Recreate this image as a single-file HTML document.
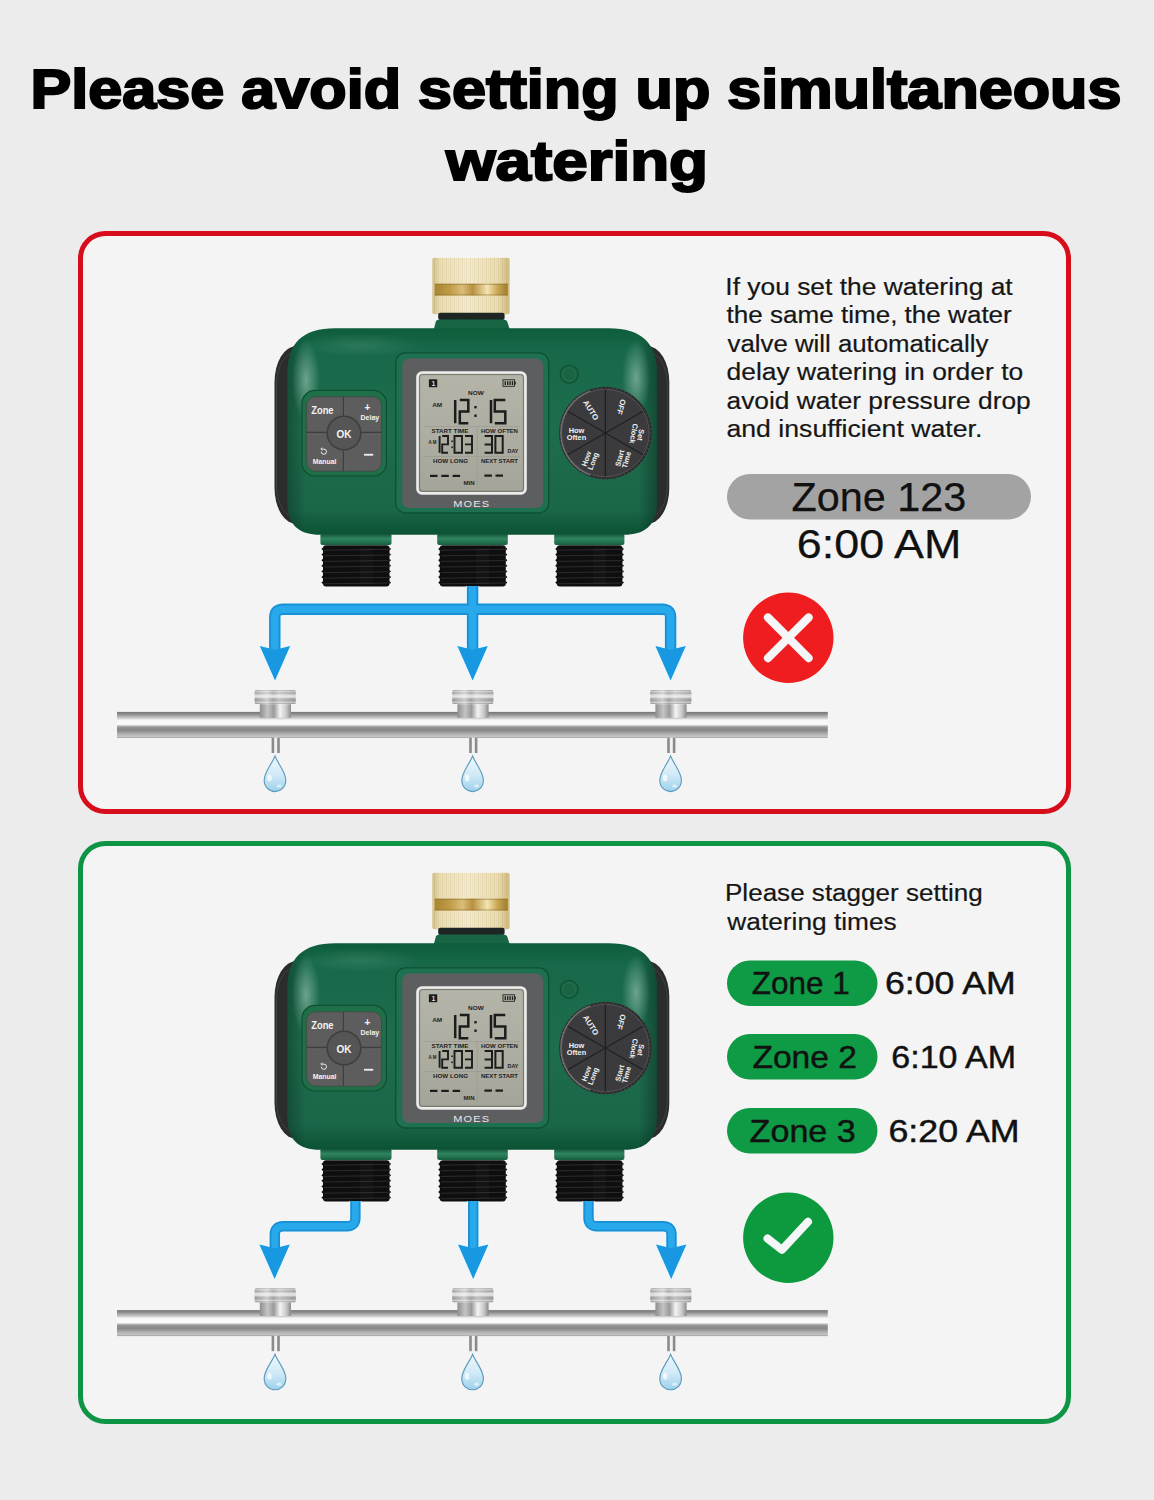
<!DOCTYPE html>
<html><head><meta charset="utf-8"><title>Avoid simultaneous watering</title>
<style>
html,body{margin:0;padding:0;width:1154px;height:1500px;overflow:hidden;background:#ececec}
svg{display:block}
text{font-family:"Liberation Sans",sans-serif}
</style></head><body>
<svg width="1154" height="1500" viewBox="0 0 1154 1500">
<defs>
<linearGradient id="brass" x1="0" y1="0" x2="1" y2="0">
<stop offset="0" stop-color="#d4c089"/><stop offset="0.1" stop-color="#eee2bb"/><stop offset="0.45" stop-color="#f7f0d5"/><stop offset="0.85" stop-color="#ede1b9"/><stop offset="1" stop-color="#d0ba7e"/>
</linearGradient>
<linearGradient id="brassband" x1="0" y1="0" x2="1" y2="0">
<stop offset="0" stop-color="#a88532"/><stop offset="0.2" stop-color="#bf9a47"/><stop offset="0.38" stop-color="#d9bd78"/><stop offset="0.52" stop-color="#b8913f"/><stop offset="0.72" stop-color="#f3e4b2"/><stop offset="0.86" stop-color="#c9a652"/><stop offset="1" stop-color="#9f7d2f"/>
</linearGradient>
<linearGradient id="bodyg" x1="0" y1="0" x2="0" y2="1">
<stop offset="0" stop-color="#0d5d3b"/><stop offset="0.1" stop-color="#17694a"/><stop offset="0.5" stop-color="#1e6d4d"/><stop offset="0.88" stop-color="#1a6648"/><stop offset="1" stop-color="#0c5234"/>
</linearGradient>
<linearGradient id="bodyshade" x1="0" y1="0" x2="1" y2="0">
<stop offset="0" stop-color="#000" stop-opacity="0.25"/><stop offset="0.05" stop-color="#000" stop-opacity="0"/><stop offset="0.95" stop-color="#000" stop-opacity="0"/><stop offset="1" stop-color="#000" stop-opacity="0.3"/>
</linearGradient>
<radialGradient id="hl"><stop offset="0" stop-color="#cfe8dc"/><stop offset="1" stop-color="#cfe8dc" stop-opacity="0"/></radialGradient>
<linearGradient id="collar" x1="0" y1="0" x2="0" y2="1">
<stop offset="0" stop-color="#0f4f33"/><stop offset="0.45" stop-color="#2f8560"/><stop offset="1" stop-color="#17603f"/>
</linearGradient>
<linearGradient id="pipe" x1="0" y1="0" x2="0" y2="1">
<stop offset="0" stop-color="#777"/><stop offset="0.08" stop-color="#8a8a8a"/><stop offset="0.26" stop-color="#d5d5d5"/><stop offset="0.31" stop-color="#f7f7f7"/><stop offset="0.48" stop-color="#fafafa"/><stop offset="0.58" stop-color="#979797"/><stop offset="0.7" stop-color="#868686"/><stop offset="0.85" stop-color="#b0b0b0"/><stop offset="0.95" stop-color="#c4c4c4"/><stop offset="1" stop-color="#9a9a9a"/>
</linearGradient>
<linearGradient id="nut" x1="0" y1="0" x2="0" y2="1">
<stop offset="0" stop-color="#8e8e8e"/><stop offset="0.1" stop-color="#c8c8c8"/><stop offset="0.22" stop-color="#9a9a9a"/><stop offset="0.36" stop-color="#d6d6d6"/><stop offset="0.5" stop-color="#e2e2e2"/><stop offset="0.62" stop-color="#a2a2a2"/><stop offset="0.76" stop-color="#939393"/><stop offset="0.88" stop-color="#c6c6c6"/><stop offset="1" stop-color="#858585"/>
</linearGradient>
<linearGradient id="nuth" x1="0" y1="0" x2="1" y2="0">
<stop offset="0" stop-color="#fff" stop-opacity="0"/><stop offset="0.3" stop-color="#fff" stop-opacity="0.5"/><stop offset="0.45" stop-color="#fff" stop-opacity="0.1"/><stop offset="0.6" stop-color="#fff" stop-opacity="0.4"/><stop offset="1" stop-color="#fff" stop-opacity="0"/>
</linearGradient>
<linearGradient id="coll2" x1="0" y1="0" x2="1" y2="0">
<stop offset="0" stop-color="#8e8e8e"/><stop offset="0.25" stop-color="#c4c4c4"/><stop offset="0.45" stop-color="#9a9a9a"/><stop offset="0.65" stop-color="#f4f4f4"/><stop offset="0.85" stop-color="#c8c8c8"/><stop offset="1" stop-color="#8a8a8a"/>
</linearGradient>
<linearGradient id="drop" x1="0" y1="0" x2="0" y2="1">
<stop offset="0" stop-color="#eef8fd"/><stop offset="0.55" stop-color="#cfe9f6"/><stop offset="1" stop-color="#9dd0ec"/>
</linearGradient>
<linearGradient id="lcdg" x1="0" y1="0" x2="0" y2="1">
<stop offset="0" stop-color="#b4b5a8"/><stop offset="0.5" stop-color="#adaea1"/><stop offset="1" stop-color="#a4a598"/>
</linearGradient>

<g id="dev">
<g>
<rect x="432.3" y="257.7" width="77.3" height="56.5" rx="2" fill="url(#brass)"/>
<line x1="434.3" y1="258" x2="434.3" y2="283.7" stroke="#b0924a" stroke-opacity="0.28" stroke-width="0.9"/>
<line x1="434.3" y1="295.5" x2="434.3" y2="314" stroke="#b0924a" stroke-opacity="0.28" stroke-width="0.9"/>
<line x1="436.3" y1="258" x2="436.3" y2="283.7" stroke="#b0924a" stroke-opacity="0.14" stroke-width="0.9"/>
<line x1="436.3" y1="295.5" x2="436.3" y2="314" stroke="#b0924a" stroke-opacity="0.14" stroke-width="0.9"/>
<line x1="438.3" y1="258" x2="438.3" y2="283.7" stroke="#b0924a" stroke-opacity="0.28" stroke-width="0.9"/>
<line x1="438.3" y1="295.5" x2="438.3" y2="314" stroke="#b0924a" stroke-opacity="0.28" stroke-width="0.9"/>
<line x1="440.3" y1="258" x2="440.3" y2="283.7" stroke="#b0924a" stroke-opacity="0.14" stroke-width="0.9"/>
<line x1="440.3" y1="295.5" x2="440.3" y2="314" stroke="#b0924a" stroke-opacity="0.14" stroke-width="0.9"/>
<line x1="442.3" y1="258" x2="442.3" y2="283.7" stroke="#b0924a" stroke-opacity="0.28" stroke-width="0.9"/>
<line x1="442.3" y1="295.5" x2="442.3" y2="314" stroke="#b0924a" stroke-opacity="0.28" stroke-width="0.9"/>
<line x1="444.3" y1="258" x2="444.3" y2="283.7" stroke="#b0924a" stroke-opacity="0.14" stroke-width="0.9"/>
<line x1="444.3" y1="295.5" x2="444.3" y2="314" stroke="#b0924a" stroke-opacity="0.14" stroke-width="0.9"/>
<line x1="446.3" y1="258" x2="446.3" y2="283.7" stroke="#b0924a" stroke-opacity="0.28" stroke-width="0.9"/>
<line x1="446.3" y1="295.5" x2="446.3" y2="314" stroke="#b0924a" stroke-opacity="0.28" stroke-width="0.9"/>
<line x1="448.3" y1="258" x2="448.3" y2="283.7" stroke="#b0924a" stroke-opacity="0.14" stroke-width="0.9"/>
<line x1="448.3" y1="295.5" x2="448.3" y2="314" stroke="#b0924a" stroke-opacity="0.14" stroke-width="0.9"/>
<line x1="450.3" y1="258" x2="450.3" y2="283.7" stroke="#b0924a" stroke-opacity="0.28" stroke-width="0.9"/>
<line x1="450.3" y1="295.5" x2="450.3" y2="314" stroke="#b0924a" stroke-opacity="0.28" stroke-width="0.9"/>
<line x1="452.3" y1="258" x2="452.3" y2="283.7" stroke="#b0924a" stroke-opacity="0.14" stroke-width="0.9"/>
<line x1="452.3" y1="295.5" x2="452.3" y2="314" stroke="#b0924a" stroke-opacity="0.14" stroke-width="0.9"/>
<line x1="454.3" y1="258" x2="454.3" y2="283.7" stroke="#b0924a" stroke-opacity="0.28" stroke-width="0.9"/>
<line x1="454.3" y1="295.5" x2="454.3" y2="314" stroke="#b0924a" stroke-opacity="0.28" stroke-width="0.9"/>
<line x1="456.3" y1="258" x2="456.3" y2="283.7" stroke="#b0924a" stroke-opacity="0.14" stroke-width="0.9"/>
<line x1="456.3" y1="295.5" x2="456.3" y2="314" stroke="#b0924a" stroke-opacity="0.14" stroke-width="0.9"/>
<line x1="458.3" y1="258" x2="458.3" y2="283.7" stroke="#b0924a" stroke-opacity="0.28" stroke-width="0.9"/>
<line x1="458.3" y1="295.5" x2="458.3" y2="314" stroke="#b0924a" stroke-opacity="0.28" stroke-width="0.9"/>
<line x1="460.3" y1="258" x2="460.3" y2="283.7" stroke="#b0924a" stroke-opacity="0.14" stroke-width="0.9"/>
<line x1="460.3" y1="295.5" x2="460.3" y2="314" stroke="#b0924a" stroke-opacity="0.14" stroke-width="0.9"/>
<line x1="462.3" y1="258" x2="462.3" y2="283.7" stroke="#b0924a" stroke-opacity="0.28" stroke-width="0.9"/>
<line x1="462.3" y1="295.5" x2="462.3" y2="314" stroke="#b0924a" stroke-opacity="0.28" stroke-width="0.9"/>
<line x1="464.3" y1="258" x2="464.3" y2="283.7" stroke="#b0924a" stroke-opacity="0.14" stroke-width="0.9"/>
<line x1="464.3" y1="295.5" x2="464.3" y2="314" stroke="#b0924a" stroke-opacity="0.14" stroke-width="0.9"/>
<line x1="466.3" y1="258" x2="466.3" y2="283.7" stroke="#b0924a" stroke-opacity="0.28" stroke-width="0.9"/>
<line x1="466.3" y1="295.5" x2="466.3" y2="314" stroke="#b0924a" stroke-opacity="0.28" stroke-width="0.9"/>
<line x1="468.3" y1="258" x2="468.3" y2="283.7" stroke="#b0924a" stroke-opacity="0.14" stroke-width="0.9"/>
<line x1="468.3" y1="295.5" x2="468.3" y2="314" stroke="#b0924a" stroke-opacity="0.14" stroke-width="0.9"/>
<line x1="470.3" y1="258" x2="470.3" y2="283.7" stroke="#b0924a" stroke-opacity="0.28" stroke-width="0.9"/>
<line x1="470.3" y1="295.5" x2="470.3" y2="314" stroke="#b0924a" stroke-opacity="0.28" stroke-width="0.9"/>
<line x1="472.3" y1="258" x2="472.3" y2="283.7" stroke="#b0924a" stroke-opacity="0.14" stroke-width="0.9"/>
<line x1="472.3" y1="295.5" x2="472.3" y2="314" stroke="#b0924a" stroke-opacity="0.14" stroke-width="0.9"/>
<line x1="474.3" y1="258" x2="474.3" y2="283.7" stroke="#b0924a" stroke-opacity="0.28" stroke-width="0.9"/>
<line x1="474.3" y1="295.5" x2="474.3" y2="314" stroke="#b0924a" stroke-opacity="0.28" stroke-width="0.9"/>
<line x1="476.3" y1="258" x2="476.3" y2="283.7" stroke="#b0924a" stroke-opacity="0.14" stroke-width="0.9"/>
<line x1="476.3" y1="295.5" x2="476.3" y2="314" stroke="#b0924a" stroke-opacity="0.14" stroke-width="0.9"/>
<line x1="478.3" y1="258" x2="478.3" y2="283.7" stroke="#b0924a" stroke-opacity="0.28" stroke-width="0.9"/>
<line x1="478.3" y1="295.5" x2="478.3" y2="314" stroke="#b0924a" stroke-opacity="0.28" stroke-width="0.9"/>
<line x1="480.3" y1="258" x2="480.3" y2="283.7" stroke="#b0924a" stroke-opacity="0.14" stroke-width="0.9"/>
<line x1="480.3" y1="295.5" x2="480.3" y2="314" stroke="#b0924a" stroke-opacity="0.14" stroke-width="0.9"/>
<line x1="482.3" y1="258" x2="482.3" y2="283.7" stroke="#b0924a" stroke-opacity="0.28" stroke-width="0.9"/>
<line x1="482.3" y1="295.5" x2="482.3" y2="314" stroke="#b0924a" stroke-opacity="0.28" stroke-width="0.9"/>
<line x1="484.3" y1="258" x2="484.3" y2="283.7" stroke="#b0924a" stroke-opacity="0.14" stroke-width="0.9"/>
<line x1="484.3" y1="295.5" x2="484.3" y2="314" stroke="#b0924a" stroke-opacity="0.14" stroke-width="0.9"/>
<line x1="486.3" y1="258" x2="486.3" y2="283.7" stroke="#b0924a" stroke-opacity="0.28" stroke-width="0.9"/>
<line x1="486.3" y1="295.5" x2="486.3" y2="314" stroke="#b0924a" stroke-opacity="0.28" stroke-width="0.9"/>
<line x1="488.3" y1="258" x2="488.3" y2="283.7" stroke="#b0924a" stroke-opacity="0.14" stroke-width="0.9"/>
<line x1="488.3" y1="295.5" x2="488.3" y2="314" stroke="#b0924a" stroke-opacity="0.14" stroke-width="0.9"/>
<line x1="490.3" y1="258" x2="490.3" y2="283.7" stroke="#b0924a" stroke-opacity="0.28" stroke-width="0.9"/>
<line x1="490.3" y1="295.5" x2="490.3" y2="314" stroke="#b0924a" stroke-opacity="0.28" stroke-width="0.9"/>
<line x1="492.3" y1="258" x2="492.3" y2="283.7" stroke="#b0924a" stroke-opacity="0.14" stroke-width="0.9"/>
<line x1="492.3" y1="295.5" x2="492.3" y2="314" stroke="#b0924a" stroke-opacity="0.14" stroke-width="0.9"/>
<line x1="494.3" y1="258" x2="494.3" y2="283.7" stroke="#b0924a" stroke-opacity="0.28" stroke-width="0.9"/>
<line x1="494.3" y1="295.5" x2="494.3" y2="314" stroke="#b0924a" stroke-opacity="0.28" stroke-width="0.9"/>
<line x1="496.3" y1="258" x2="496.3" y2="283.7" stroke="#b0924a" stroke-opacity="0.14" stroke-width="0.9"/>
<line x1="496.3" y1="295.5" x2="496.3" y2="314" stroke="#b0924a" stroke-opacity="0.14" stroke-width="0.9"/>
<line x1="498.3" y1="258" x2="498.3" y2="283.7" stroke="#b0924a" stroke-opacity="0.28" stroke-width="0.9"/>
<line x1="498.3" y1="295.5" x2="498.3" y2="314" stroke="#b0924a" stroke-opacity="0.28" stroke-width="0.9"/>
<line x1="500.3" y1="258" x2="500.3" y2="283.7" stroke="#b0924a" stroke-opacity="0.14" stroke-width="0.9"/>
<line x1="500.3" y1="295.5" x2="500.3" y2="314" stroke="#b0924a" stroke-opacity="0.14" stroke-width="0.9"/>
<line x1="502.3" y1="258" x2="502.3" y2="283.7" stroke="#b0924a" stroke-opacity="0.28" stroke-width="0.9"/>
<line x1="502.3" y1="295.5" x2="502.3" y2="314" stroke="#b0924a" stroke-opacity="0.28" stroke-width="0.9"/>
<line x1="504.3" y1="258" x2="504.3" y2="283.7" stroke="#b0924a" stroke-opacity="0.14" stroke-width="0.9"/>
<line x1="504.3" y1="295.5" x2="504.3" y2="314" stroke="#b0924a" stroke-opacity="0.14" stroke-width="0.9"/>
<line x1="506.3" y1="258" x2="506.3" y2="283.7" stroke="#b0924a" stroke-opacity="0.28" stroke-width="0.9"/>
<line x1="506.3" y1="295.5" x2="506.3" y2="314" stroke="#b0924a" stroke-opacity="0.28" stroke-width="0.9"/>
<rect x="434.6" y="283.7" width="73.2" height="11.8" fill="url(#brassband)"/>
<rect x="434.6" y="283.7" width="73.2" height="1.2" fill="#8f7030" opacity="0.5"/>
<rect x="434.6" y="294.3" width="73.2" height="1.2" fill="#8f7030" opacity="0.5"/>
</g>
<rect x="438.2" y="312.8" width="66.4" height="7.2" rx="2" fill="#1d2622"/>
<path d="M433.6 330 L436 321 Q437 319.5 440 319.5 L503 319.5 Q506 319.5 507 321 L510 330 Z" fill="#176545"/>
<rect x="274.5" y="346" width="394.8" height="178" rx="22" ry="36" fill="#2a2d2c"/>
<rect x="276.5" y="352" width="390.8" height="166" rx="20" ry="32" fill="none" stroke="#474c4a" stroke-width="1" opacity="0.7"/>
<path d="M287.5 372 C287.5 343 303 328.3 335 328.3 H609 C641 328.3 656.8 343 656.8 372 V503 C656.8 524 646 534.8 624 534.8 H320 C298 534.8 287.5 524 287.5 503 Z" fill="url(#bodyg)"/>
<path d="M287.5 372 C287.5 343 303 328.3 335 328.3 H609 C641 328.3 656.8 343 656.8 372 V503 C656.8 524 646 534.8 624 534.8 H320 C298 534.8 287.5 524 287.5 503 Z" fill="url(#bodyshade)"/>
<ellipse cx="306" cy="380" rx="14" ry="40" fill="url(#hl)" opacity="0.45"/>
<ellipse cx="636" cy="378" rx="14" ry="38" fill="url(#hl)" opacity="0.45"/>
<ellipse cx="360" cy="345" rx="60" ry="12" fill="url(#hl)" opacity="0.12"/>
<rect x="302" y="390.4" width="84.4" height="85.6" rx="13" fill="#1f7049" stroke="#0f4f33" stroke-width="1.2"/>
<rect x="306.4" y="396.8" width="75.2" height="74.4" rx="9" fill="#5d5d5d" stroke="#3c4a42" stroke-width="0.8"/>
<line x1="343.5" y1="397" x2="343.5" y2="471" stroke="#3e3e3e" stroke-width="1.4"/>
<line x1="306.5" y1="432.5" x2="381.5" y2="432.5" stroke="#3e3e3e" stroke-width="1.4"/>
<line x1="345" y1="397" x2="345" y2="471" stroke="#6c6c6c" stroke-width="0.6"/>
<line x1="306.5" y1="434" x2="381.5" y2="434" stroke="#6c6c6c" stroke-width="0.6"/>
<circle cx="344" cy="433" r="16.8" fill="#555" stroke="#3f3f3f" stroke-width="1.6"/>
<g fill="#f4f4f4" font-weight="700">
<text x="311.2" y="414.4" font-size="10.5" lengthAdjust="spacingAndGlyphs" textLength="22.4">Zone</text>
<text x="364.6" y="411.2" font-size="10">+</text>
<text x="360.5" y="420" font-size="8" lengthAdjust="spacingAndGlyphs" textLength="18.7">Delay</text>
<text x="336.5" y="438" font-size="11.5" lengthAdjust="spacingAndGlyphs" textLength="15">OK</text>
<text x="312.8" y="464" font-size="8" lengthAdjust="spacingAndGlyphs" textLength="23.7">Manual</text>
</g>
<rect x="364" y="453.8" width="9.2" height="1.9" fill="#ececec"/>
<path d="M321.3 451.7 a2.6 2.6 0 1 0 2.6 -2.6 h-2" fill="none" stroke="#eee" stroke-width="1"/>
<path d="M322.2 447.6 l-1.4 1.5 l1.6 1.2" fill="none" stroke="#eee" stroke-width="0.9"/>
<rect x="395.7" y="352.9" width="153" height="160.1" rx="10" fill="#1e7150" stroke="#0e5134" stroke-width="1.4"/>
<rect x="402.2" y="358.6" width="140.8" height="149.4" rx="7" fill="#5d5e60"/>
<rect x="417.5" y="372.5" width="108" height="120.9" rx="4.5" fill="url(#lcdg)" stroke="#ececec" stroke-width="2.6"/>
<rect x="419.6" y="374.6" width="103.8" height="116.7" rx="3" fill="none" stroke="#4c4d48" stroke-width="1" opacity="0.6"/>
<g stroke="#9a9a94" stroke-width="0.7">
<line x1="423.5" y1="426.5" x2="520" y2="426.5"/>
<line x1="423.5" y1="456.5" x2="520" y2="456.5"/>
<line x1="477.2" y1="426.5" x2="477.2" y2="488"/>
</g>
<rect x="428.9" y="379.3" width="8.3" height="7.9" fill="#1a1a1a"/>
<text x="431.5" y="386" font-size="7" font-weight="700" fill="#ddd">1</text>
<rect x="503" y="379.8" width="11.5" height="6.5" fill="none" stroke="#222" stroke-width="0.9"/>
<rect x="514.5" y="381.6" width="1.3" height="2.9" fill="#222"/>
<rect x="504.6" y="381.2" width="1.4" height="3.8" fill="#222"/>
<rect x="507.0" y="381.2" width="1.4" height="3.8" fill="#222"/>
<rect x="509.4" y="381.2" width="1.4" height="3.8" fill="#222"/>
<rect x="511.8" y="381.2" width="1.4" height="3.8" fill="#222"/>
<g fill="#1e1e1e" font-size="5.6" font-weight="700">
<text x="468" y="395.3" lengthAdjust="spacingAndGlyphs" textLength="15.7">NOW</text>
<text x="432.2" y="407.2" lengthAdjust="spacingAndGlyphs" textLength="10">AM</text>
<text x="431.5" y="433" lengthAdjust="spacingAndGlyphs" textLength="37">START TIME</text>
<text x="481" y="432.5" lengthAdjust="spacingAndGlyphs" textLength="37">HOW OFTEN</text>
<text x="428.5" y="444" lengthAdjust="spacingAndGlyphs" textLength="8">A M</text>
<text x="507.5" y="453" lengthAdjust="spacingAndGlyphs" textLength="11">DAY</text>
<text x="433" y="463" lengthAdjust="spacingAndGlyphs" textLength="35">HOW LONG</text>
<text x="481" y="463" lengthAdjust="spacingAndGlyphs" textLength="37">NEXT START</text>
<text x="463.5" y="484.5" font-size="4.5" lengthAdjust="spacingAndGlyphs" textLength="11">MIN</text>
</g>
<path d="M455.2 399.9V423.2M459.8 399.9H468.3V411.54999999999995H459.8V423.2H468.3M491 399.9V423.2M505.3 399.9H494.8V411.54999999999995H505.3V423.2H494.8" fill="none" stroke="#1c1c1c" stroke-width="2.5" stroke-linejoin="miter"/>
<rect x="474.3" y="406" width="2.4" height="2.4" fill="#1c1c1c"/><rect x="474.3" y="414.5" width="2.4" height="2.4" fill="#1c1c1c"/>
<path d="M439.6 436.0V452.8M442.2 436.0H448.0V444.4H442.2V452.8H448.0M454.5 436.0H462.0V452.8H454.5ZM465.0 436.0H472.0V452.8H465.0M465.0 444.4H472.0" fill="none" stroke="#1c1c1c" stroke-width="1.9" stroke-linejoin="miter"/>
<rect x="451.3" y="440.5" width="1.6" height="1.6" fill="#1c1c1c"/><rect x="451.3" y="446.5" width="1.6" height="1.6" fill="#1c1c1c"/>
<path d="M484.6 436.0H492.0V452.8H484.6M484.6 444.4H492.0M495.4 436.0H502.7V452.8H495.4Z" fill="none" stroke="#1c1c1c" stroke-width="2.0" stroke-linejoin="miter"/>
<g fill="#1c1c1c">
<rect x="430.0" y="474.8" width="7.5" height="2.2"/>
<rect x="441.3" y="474.8" width="7.5" height="2.2"/>
<rect x="452.6" y="474.8" width="7.5" height="2.2"/>
<rect x="484.4" y="474.5" width="7.5" height="2.2"/>
<rect x="495.5" y="474.5" width="7.5" height="2.2"/>
</g>
<text x="471.8" y="506.5" font-size="9.5" fill="#e8e8e8" text-anchor="middle" lengthAdjust="spacingAndGlyphs" textLength="37" letter-spacing="1">MOES</text>
<circle cx="569.2" cy="374.3" r="9" fill="#1a6444" stroke="#0f5134" stroke-width="1.2"/>
<circle cx="569.2" cy="374.3" r="6.5" fill="none" stroke="#2a7a56" stroke-width="0.8" opacity="0.7"/>
<circle cx="605.4" cy="433.0" r="46.3" fill="#2c2c2e"/>
<line x1="649.90" y1="433.00" x2="651.90" y2="433.00" stroke="#4a4a4c" stroke-width="0.9"/>
<line x1="649.73" y1="436.88" x2="651.72" y2="437.05" stroke="#4a4a4c" stroke-width="0.9"/>
<line x1="649.22" y1="440.73" x2="651.19" y2="441.07" stroke="#4a4a4c" stroke-width="0.9"/>
<line x1="648.38" y1="444.52" x2="650.32" y2="445.04" stroke="#4a4a4c" stroke-width="0.9"/>
<line x1="647.22" y1="448.22" x2="649.10" y2="448.90" stroke="#4a4a4c" stroke-width="0.9"/>
<line x1="645.73" y1="451.81" x2="647.54" y2="452.65" stroke="#4a4a4c" stroke-width="0.9"/>
<line x1="643.94" y1="455.25" x2="645.67" y2="456.25" stroke="#4a4a4c" stroke-width="0.9"/>
<line x1="641.85" y1="458.52" x2="643.49" y2="459.67" stroke="#4a4a4c" stroke-width="0.9"/>
<line x1="639.49" y1="461.60" x2="641.02" y2="462.89" stroke="#4a4a4c" stroke-width="0.9"/>
<line x1="636.87" y1="464.47" x2="638.28" y2="465.88" stroke="#4a4a4c" stroke-width="0.9"/>
<line x1="634.00" y1="467.09" x2="635.29" y2="468.62" stroke="#4a4a4c" stroke-width="0.9"/>
<line x1="630.92" y1="469.45" x2="632.07" y2="471.09" stroke="#4a4a4c" stroke-width="0.9"/>
<line x1="627.65" y1="471.54" x2="628.65" y2="473.27" stroke="#4a4a4c" stroke-width="0.9"/>
<line x1="624.21" y1="473.33" x2="625.05" y2="475.14" stroke="#4a4a4c" stroke-width="0.9"/>
<line x1="620.62" y1="474.82" x2="621.30" y2="476.70" stroke="#4a4a4c" stroke-width="0.9"/>
<line x1="616.92" y1="475.98" x2="617.44" y2="477.92" stroke="#4a4a4c" stroke-width="0.9"/>
<line x1="613.13" y1="476.82" x2="613.47" y2="478.79" stroke="#4a4a4c" stroke-width="0.9"/>
<line x1="609.28" y1="477.33" x2="609.45" y2="479.32" stroke="#4a4a4c" stroke-width="0.9"/>
<line x1="605.40" y1="477.50" x2="605.40" y2="479.50" stroke="#4a4a4c" stroke-width="0.9"/>
<line x1="601.52" y1="477.33" x2="601.35" y2="479.32" stroke="#4a4a4c" stroke-width="0.9"/>
<line x1="597.67" y1="476.82" x2="597.33" y2="478.79" stroke="#4a4a4c" stroke-width="0.9"/>
<line x1="593.88" y1="475.98" x2="593.36" y2="477.92" stroke="#4a4a4c" stroke-width="0.9"/>
<line x1="590.18" y1="474.82" x2="589.50" y2="476.70" stroke="#4a4a4c" stroke-width="0.9"/>
<line x1="586.59" y1="473.33" x2="585.75" y2="475.14" stroke="#4a4a4c" stroke-width="0.9"/>
<line x1="583.15" y1="471.54" x2="582.15" y2="473.27" stroke="#4a4a4c" stroke-width="0.9"/>
<line x1="579.88" y1="469.45" x2="578.73" y2="471.09" stroke="#4a4a4c" stroke-width="0.9"/>
<line x1="576.80" y1="467.09" x2="575.51" y2="468.62" stroke="#4a4a4c" stroke-width="0.9"/>
<line x1="573.93" y1="464.47" x2="572.52" y2="465.88" stroke="#4a4a4c" stroke-width="0.9"/>
<line x1="571.31" y1="461.60" x2="569.78" y2="462.89" stroke="#4a4a4c" stroke-width="0.9"/>
<line x1="568.95" y1="458.52" x2="567.31" y2="459.67" stroke="#4a4a4c" stroke-width="0.9"/>
<line x1="566.86" y1="455.25" x2="565.13" y2="456.25" stroke="#4a4a4c" stroke-width="0.9"/>
<line x1="565.07" y1="451.81" x2="563.26" y2="452.65" stroke="#4a4a4c" stroke-width="0.9"/>
<line x1="563.58" y1="448.22" x2="561.70" y2="448.90" stroke="#4a4a4c" stroke-width="0.9"/>
<line x1="562.42" y1="444.52" x2="560.48" y2="445.04" stroke="#4a4a4c" stroke-width="0.9"/>
<line x1="561.58" y1="440.73" x2="559.61" y2="441.07" stroke="#4a4a4c" stroke-width="0.9"/>
<line x1="561.07" y1="436.88" x2="559.08" y2="437.05" stroke="#4a4a4c" stroke-width="0.9"/>
<line x1="560.90" y1="433.00" x2="558.90" y2="433.00" stroke="#4a4a4c" stroke-width="0.9"/>
<line x1="561.07" y1="429.12" x2="559.08" y2="428.95" stroke="#4a4a4c" stroke-width="0.9"/>
<line x1="561.58" y1="425.27" x2="559.61" y2="424.93" stroke="#4a4a4c" stroke-width="0.9"/>
<line x1="562.42" y1="421.48" x2="560.48" y2="420.96" stroke="#4a4a4c" stroke-width="0.9"/>
<line x1="563.58" y1="417.78" x2="561.70" y2="417.10" stroke="#4a4a4c" stroke-width="0.9"/>
<line x1="565.07" y1="414.19" x2="563.26" y2="413.35" stroke="#4a4a4c" stroke-width="0.9"/>
<line x1="566.86" y1="410.75" x2="565.13" y2="409.75" stroke="#4a4a4c" stroke-width="0.9"/>
<line x1="568.95" y1="407.48" x2="567.31" y2="406.33" stroke="#4a4a4c" stroke-width="0.9"/>
<line x1="571.31" y1="404.40" x2="569.78" y2="403.11" stroke="#4a4a4c" stroke-width="0.9"/>
<line x1="573.93" y1="401.53" x2="572.52" y2="400.12" stroke="#4a4a4c" stroke-width="0.9"/>
<line x1="576.80" y1="398.91" x2="575.51" y2="397.38" stroke="#4a4a4c" stroke-width="0.9"/>
<line x1="579.88" y1="396.55" x2="578.73" y2="394.91" stroke="#4a4a4c" stroke-width="0.9"/>
<line x1="583.15" y1="394.46" x2="582.15" y2="392.73" stroke="#4a4a4c" stroke-width="0.9"/>
<line x1="586.59" y1="392.67" x2="585.75" y2="390.86" stroke="#4a4a4c" stroke-width="0.9"/>
<line x1="590.18" y1="391.18" x2="589.50" y2="389.30" stroke="#4a4a4c" stroke-width="0.9"/>
<line x1="593.88" y1="390.02" x2="593.36" y2="388.08" stroke="#4a4a4c" stroke-width="0.9"/>
<line x1="597.67" y1="389.18" x2="597.33" y2="387.21" stroke="#4a4a4c" stroke-width="0.9"/>
<line x1="601.52" y1="388.67" x2="601.35" y2="386.68" stroke="#4a4a4c" stroke-width="0.9"/>
<line x1="605.40" y1="388.50" x2="605.40" y2="386.50" stroke="#4a4a4c" stroke-width="0.9"/>
<line x1="609.28" y1="388.67" x2="609.45" y2="386.68" stroke="#4a4a4c" stroke-width="0.9"/>
<line x1="613.13" y1="389.18" x2="613.47" y2="387.21" stroke="#4a4a4c" stroke-width="0.9"/>
<line x1="616.92" y1="390.02" x2="617.44" y2="388.08" stroke="#4a4a4c" stroke-width="0.9"/>
<line x1="620.62" y1="391.18" x2="621.30" y2="389.30" stroke="#4a4a4c" stroke-width="0.9"/>
<line x1="624.21" y1="392.67" x2="625.05" y2="390.86" stroke="#4a4a4c" stroke-width="0.9"/>
<line x1="627.65" y1="394.46" x2="628.65" y2="392.73" stroke="#4a4a4c" stroke-width="0.9"/>
<line x1="630.92" y1="396.55" x2="632.07" y2="394.91" stroke="#4a4a4c" stroke-width="0.9"/>
<line x1="634.00" y1="398.91" x2="635.29" y2="397.38" stroke="#4a4a4c" stroke-width="0.9"/>
<line x1="636.87" y1="401.53" x2="638.28" y2="400.12" stroke="#4a4a4c" stroke-width="0.9"/>
<line x1="639.49" y1="404.40" x2="641.02" y2="403.11" stroke="#4a4a4c" stroke-width="0.9"/>
<line x1="641.85" y1="407.48" x2="643.49" y2="406.33" stroke="#4a4a4c" stroke-width="0.9"/>
<line x1="643.94" y1="410.75" x2="645.67" y2="409.75" stroke="#4a4a4c" stroke-width="0.9"/>
<line x1="645.73" y1="414.19" x2="647.54" y2="413.35" stroke="#4a4a4c" stroke-width="0.9"/>
<line x1="647.22" y1="417.78" x2="649.10" y2="417.10" stroke="#4a4a4c" stroke-width="0.9"/>
<line x1="648.38" y1="421.48" x2="650.32" y2="420.96" stroke="#4a4a4c" stroke-width="0.9"/>
<line x1="649.22" y1="425.27" x2="651.19" y2="424.93" stroke="#4a4a4c" stroke-width="0.9"/>
<line x1="649.73" y1="429.12" x2="651.72" y2="428.95" stroke="#4a4a4c" stroke-width="0.9"/>
<circle cx="605.4" cy="433.0" r="43.8" fill="#3b3b3d" stroke="#58585a" stroke-width="0.9"/>
<path d="M590.15 474.91 A44.6 44.6 0 0 1 590.15 391.09" fill="none" stroke="#8a8a8c" stroke-width="1.1" opacity="0.8"/>
<line x1="643.07" y1="454.75" x2="567.73" y2="411.25" stroke="#202022" stroke-width="1.3"/>
<line x1="605.40" y1="476.50" x2="605.40" y2="389.50" stroke="#202022" stroke-width="1.3"/>
<line x1="567.73" y1="454.75" x2="643.07" y2="411.25" stroke="#202022" stroke-width="1.3"/>
<text transform="translate(591.0 410.1) rotate(58)" font-size="7.8" font-weight="700" fill="#f2f2f2" text-anchor="middle"><tspan x="0" y="2.73">AUTO</tspan></text>
<text transform="translate(621.3 406.9) rotate(105)" font-size="7.8" font-weight="700" fill="#f2f2f2" text-anchor="middle"><tspan x="0" y="2.73">OFF</tspan></text>
<text transform="translate(637.3 434.3) rotate(100)" font-size="7.4" font-weight="700" fill="#f2f2f2" text-anchor="middle"><tspan x="0" y="-0.93">Set</tspan><tspan x="0" y="6.11">Clock</tspan></text>
<text transform="translate(576.5 434.0) rotate(0)" font-size="7.4" font-weight="700" fill="#f2f2f2" text-anchor="middle"><tspan x="0" y="-0.93">How</tspan><tspan x="0" y="6.11">Often</tspan></text>
<text transform="translate(589.7 460.0) rotate(-70)" font-size="7.4" font-weight="700" fill="#f2f2f2" text-anchor="middle"><tspan x="0" y="-0.93">How</tspan><tspan x="0" y="6.11">Long</tspan></text>
<text transform="translate(623.0 459.0) rotate(-75)" font-size="7.4" font-weight="700" fill="#f2f2f2" text-anchor="middle"><tspan x="0" y="-0.93">Start</tspan><tspan x="0" y="6.11">Time</tspan></text>
<rect x="320.4" y="533.5" width="71.1" height="11.5" rx="2" fill="url(#collar)"/>
<rect x="323.0" y="545.2" width="66.5" height="41.3" rx="3" fill="#0e0e0e"/>
<path d="M321.4 549.0 l1.8 -1.7 v3.4 z M391.1 549.0 l-1.8 -1.7 v3.4 z" fill="#141414"/>
<line x1="324.0" y1="550.2" x2="388.5" y2="549.4" stroke="#2c2c2c" stroke-width="1"/>
<path d="M321.4 554.6 l1.8 -1.7 v3.4 z M391.1 554.6 l-1.8 -1.7 v3.4 z" fill="#141414"/>
<line x1="324.0" y1="555.8" x2="388.5" y2="555.0" stroke="#2c2c2c" stroke-width="1"/>
<path d="M321.4 560.2 l1.8 -1.7 v3.4 z M391.1 560.2 l-1.8 -1.7 v3.4 z" fill="#141414"/>
<line x1="324.0" y1="561.4" x2="388.5" y2="560.6" stroke="#2c2c2c" stroke-width="1"/>
<path d="M321.4 565.8 l1.8 -1.7 v3.4 z M391.1 565.8 l-1.8 -1.7 v3.4 z" fill="#141414"/>
<line x1="324.0" y1="567.0" x2="388.5" y2="566.2" stroke="#2c2c2c" stroke-width="1"/>
<path d="M321.4 571.4 l1.8 -1.7 v3.4 z M391.1 571.4 l-1.8 -1.7 v3.4 z" fill="#141414"/>
<line x1="324.0" y1="572.6" x2="388.5" y2="571.8" stroke="#2c2c2c" stroke-width="1"/>
<path d="M321.4 577.0 l1.8 -1.7 v3.4 z M391.1 577.0 l-1.8 -1.7 v3.4 z" fill="#141414"/>
<line x1="324.0" y1="578.2" x2="388.5" y2="577.4" stroke="#2c2c2c" stroke-width="1"/>
<path d="M321.4 582.6 l1.8 -1.7 v3.4 z M391.1 582.6 l-1.8 -1.7 v3.4 z" fill="#141414"/>
<line x1="324.0" y1="583.8" x2="388.5" y2="583.0" stroke="#2c2c2c" stroke-width="1"/>
<rect x="359.6" y="548" width="13.3" height="36" fill="#fff" opacity="0.025"/>
<rect x="437.2" y="533.5" width="70.6" height="11.5" rx="2" fill="url(#collar)"/>
<rect x="439.8" y="545.2" width="66.0" height="41.3" rx="3" fill="#0e0e0e"/>
<path d="M438.2 549.0 l1.8 -1.7 v3.4 z M507.4 549.0 l-1.8 -1.7 v3.4 z" fill="#141414"/>
<line x1="440.8" y1="550.2" x2="504.8" y2="549.4" stroke="#2c2c2c" stroke-width="1"/>
<path d="M438.2 554.6 l1.8 -1.7 v3.4 z M507.4 554.6 l-1.8 -1.7 v3.4 z" fill="#141414"/>
<line x1="440.8" y1="555.8" x2="504.8" y2="555.0" stroke="#2c2c2c" stroke-width="1"/>
<path d="M438.2 560.2 l1.8 -1.7 v3.4 z M507.4 560.2 l-1.8 -1.7 v3.4 z" fill="#141414"/>
<line x1="440.8" y1="561.4" x2="504.8" y2="560.6" stroke="#2c2c2c" stroke-width="1"/>
<path d="M438.2 565.8 l1.8 -1.7 v3.4 z M507.4 565.8 l-1.8 -1.7 v3.4 z" fill="#141414"/>
<line x1="440.8" y1="567.0" x2="504.8" y2="566.2" stroke="#2c2c2c" stroke-width="1"/>
<path d="M438.2 571.4 l1.8 -1.7 v3.4 z M507.4 571.4 l-1.8 -1.7 v3.4 z" fill="#141414"/>
<line x1="440.8" y1="572.6" x2="504.8" y2="571.8" stroke="#2c2c2c" stroke-width="1"/>
<path d="M438.2 577.0 l1.8 -1.7 v3.4 z M507.4 577.0 l-1.8 -1.7 v3.4 z" fill="#141414"/>
<line x1="440.8" y1="578.2" x2="504.8" y2="577.4" stroke="#2c2c2c" stroke-width="1"/>
<path d="M438.2 582.6 l1.8 -1.7 v3.4 z M507.4 582.6 l-1.8 -1.7 v3.4 z" fill="#141414"/>
<line x1="440.8" y1="583.8" x2="504.8" y2="583.0" stroke="#2c2c2c" stroke-width="1"/>
<rect x="476.1" y="548" width="13.2" height="36" fill="#fff" opacity="0.025"/>
<rect x="554.2" y="533.5" width="70.2" height="11.5" rx="2" fill="url(#collar)"/>
<rect x="556.8" y="545.2" width="65.6" height="41.3" rx="3" fill="#0e0e0e"/>
<path d="M555.2 549.0 l1.8 -1.7 v3.4 z M624.0 549.0 l-1.8 -1.7 v3.4 z" fill="#141414"/>
<line x1="557.8" y1="550.2" x2="621.4" y2="549.4" stroke="#2c2c2c" stroke-width="1"/>
<path d="M555.2 554.6 l1.8 -1.7 v3.4 z M624.0 554.6 l-1.8 -1.7 v3.4 z" fill="#141414"/>
<line x1="557.8" y1="555.8" x2="621.4" y2="555.0" stroke="#2c2c2c" stroke-width="1"/>
<path d="M555.2 560.2 l1.8 -1.7 v3.4 z M624.0 560.2 l-1.8 -1.7 v3.4 z" fill="#141414"/>
<line x1="557.8" y1="561.4" x2="621.4" y2="560.6" stroke="#2c2c2c" stroke-width="1"/>
<path d="M555.2 565.8 l1.8 -1.7 v3.4 z M624.0 565.8 l-1.8 -1.7 v3.4 z" fill="#141414"/>
<line x1="557.8" y1="567.0" x2="621.4" y2="566.2" stroke="#2c2c2c" stroke-width="1"/>
<path d="M555.2 571.4 l1.8 -1.7 v3.4 z M624.0 571.4 l-1.8 -1.7 v3.4 z" fill="#141414"/>
<line x1="557.8" y1="572.6" x2="621.4" y2="571.8" stroke="#2c2c2c" stroke-width="1"/>
<path d="M555.2 577.0 l1.8 -1.7 v3.4 z M624.0 577.0 l-1.8 -1.7 v3.4 z" fill="#141414"/>
<line x1="557.8" y1="578.2" x2="621.4" y2="577.4" stroke="#2c2c2c" stroke-width="1"/>
<path d="M555.2 582.6 l1.8 -1.7 v3.4 z M624.0 582.6 l-1.8 -1.7 v3.4 z" fill="#141414"/>
<line x1="557.8" y1="583.8" x2="621.4" y2="583.0" stroke="#2c2c2c" stroke-width="1"/>
<rect x="592.9" y="548" width="13.1" height="36" fill="#fff" opacity="0.025"/>
</g>
</defs>
<rect x="0" y="0" width="1154" height="1500" fill="#ececec"/>
<!-- title -->
<g fill="#000" stroke="#000" stroke-width="2.1" font-weight="700" font-size="55.5">
<text x="30.5" y="108.3" lengthAdjust="spacingAndGlyphs" textLength="1091">Please avoid setting up simultaneous</text>
<text x="446" y="179.5" lengthAdjust="spacingAndGlyphs" textLength="262">watering</text>
</g>
<!-- boxes -->
<rect x="80.5" y="233.5" width="988" height="578" rx="25" fill="#f4f4f4" stroke="#d80d1b" stroke-width="5"/>
<rect x="80.5" y="843.5" width="988" height="578" rx="25" fill="#f4f4f4" stroke="#0d9444" stroke-width="5"/>

<!-- DEVICE -->
<use href="#dev"/>
<use href="#dev" transform="translate(0 615)"/>
<g>
<path d="M472.6 586 V652 M274.8 652 V617.3 Q274.8 609.2 283.3 609.2 H662.1 Q670.6 609.2 670.6 617.3 V652" fill="none" stroke="#e8f8ff" stroke-width="13"/>
<path d="M259.8 646.0 L275.0 649.8 L290.2 646.0 L275.0 680.5 Z" fill="#e8f8ff" stroke="#e8f8ff" stroke-width="2.2" stroke-linejoin="round"/>
<path d="M457.4 646.0 L472.6 649.8 L487.8 646.0 L472.6 680.5 Z" fill="#e8f8ff" stroke="#e8f8ff" stroke-width="2.2" stroke-linejoin="round"/>
<path d="M655.4 646.0 L670.6 649.8 L685.8 646.0 L670.6 680.5 Z" fill="#e8f8ff" stroke="#e8f8ff" stroke-width="2.2" stroke-linejoin="round"/>
<path d="M472.6 586 V652 M274.8 652 V617.3 Q274.8 609.2 283.3 609.2 H662.1 Q670.6 609.2 670.6 617.3 V652" fill="none" stroke="#1b8fd3" stroke-width="11.4"/>
<path d="M472.6 586 V652 M274.8 652 V617.3 Q274.8 609.2 283.3 609.2 H662.1 Q670.6 609.2 670.6 617.3 V652" fill="none" stroke="#27a9ec" stroke-width="7.6"/>
<path d="M259.8 646.0 L275.0 649.8 L290.2 646.0 L275.0 680.5 Z" fill="#1898e0"/>
<path d="M457.4 646.0 L472.6 649.8 L487.8 646.0 L472.6 680.5 Z" fill="#1898e0"/>
<path d="M655.4 646.0 L670.6 649.8 L685.8 646.0 L670.6 680.5 Z" fill="#1898e0"/>
</g>
<rect x="117" y="711.9" width="710.8" height="26" fill="url(#pipe)"/><rect x="254.6" y="690.0" width="41.2" height="14" rx="1.5" fill="url(#nut)"/><rect x="254.6" y="690.0" width="41.2" height="14" rx="1.5" fill="url(#nuth)"/><rect x="259.8" y="704.2" width="31.2" height="13.6" fill="url(#coll2)"/><rect x="452.2" y="690.0" width="41.2" height="14" rx="1.5" fill="url(#nut)"/><rect x="452.2" y="690.0" width="41.2" height="14" rx="1.5" fill="url(#nuth)"/><rect x="457.4" y="704.2" width="31.2" height="13.6" fill="url(#coll2)"/><rect x="650.2" y="690.0" width="41.2" height="14" rx="1.5" fill="url(#nut)"/><rect x="650.2" y="690.0" width="41.2" height="14" rx="1.5" fill="url(#nuth)"/><rect x="655.4" y="704.2" width="31.2" height="13.6" fill="url(#coll2)"/><rect x="271.6" y="737.6" width="8.2" height="15.4" fill="#f2f2f2"/><rect x="271.6" y="737.6" width="2.6" height="15.4" fill="#8a8a8a"/><rect x="277.2" y="737.6" width="2.6" height="15.4" fill="#8a8a8a"/><path d="M275.0 756.0 C278.0 764.0 286.0 772.0 285.8 780.5 C285.6 787.5 280.5 791.6 275.0 791.6 C269.5 791.6 264.4 787.5 264.2 780.5 C264.0 772.0 272.0 764.0 275.0 756.0 Z" fill="url(#drop)" stroke="#5a98bb" stroke-width="1.1"/><ellipse cx="269.5" cy="778.0" rx="2.2" ry="3.5" fill="#fff" opacity="0.7"/><ellipse cx="279.0" cy="786.0" rx="2.5" ry="1.6" fill="#fff" opacity="0.6"/><rect x="469.2" y="737.6" width="8.2" height="15.4" fill="#f2f2f2"/><rect x="469.2" y="737.6" width="2.6" height="15.4" fill="#8a8a8a"/><rect x="474.8" y="737.6" width="2.6" height="15.4" fill="#8a8a8a"/><path d="M472.6 756.0 C475.6 764.0 483.6 772.0 483.4 780.5 C483.2 787.5 478.1 791.6 472.6 791.6 C467.1 791.6 462.0 787.5 461.8 780.5 C461.6 772.0 469.6 764.0 472.6 756.0 Z" fill="url(#drop)" stroke="#5a98bb" stroke-width="1.1"/><ellipse cx="467.1" cy="778.0" rx="2.2" ry="3.5" fill="#fff" opacity="0.7"/><ellipse cx="476.6" cy="786.0" rx="2.5" ry="1.6" fill="#fff" opacity="0.6"/><rect x="667.2" y="737.6" width="8.2" height="15.4" fill="#f2f2f2"/><rect x="667.2" y="737.6" width="2.6" height="15.4" fill="#8a8a8a"/><rect x="672.8" y="737.6" width="2.6" height="15.4" fill="#8a8a8a"/><path d="M670.6 756.0 C673.6 764.0 681.6 772.0 681.4 780.5 C681.2 787.5 676.1 791.6 670.6 791.6 C665.1 791.6 660.0 787.5 659.8 780.5 C659.6 772.0 667.6 764.0 670.6 756.0 Z" fill="url(#drop)" stroke="#5a98bb" stroke-width="1.1"/><ellipse cx="665.1" cy="778.0" rx="2.2" ry="3.5" fill="#fff" opacity="0.7"/><ellipse cx="674.6" cy="786.0" rx="2.5" ry="1.6" fill="#fff" opacity="0.6"/>
<g>
<path d="M355.4 1201 V1217.8 Q355.4 1226.3 346.9 1226.3 H283.3 Q274.8 1226.3 274.8 1234.8 V1251 M473.2 1201 V1251 M588.5 1201 V1217.8 Q588.5 1226.3 597 1226.3 H663 Q671.5 1226.3 671.5 1234.8 V1251" fill="none" stroke="#e8f8ff" stroke-width="12"/>
<path d="M259.4 1244.5 L274.6 1248.3 L289.8 1244.5 L274.6 1279.0 Z" fill="#e8f8ff" stroke="#e8f8ff" stroke-width="2.2" stroke-linejoin="round"/>
<path d="M458.0 1244.5 L473.2 1248.3 L488.4 1244.5 L473.2 1279.0 Z" fill="#e8f8ff" stroke="#e8f8ff" stroke-width="2.2" stroke-linejoin="round"/>
<path d="M656.0 1244.5 L671.2 1248.3 L686.4 1244.5 L671.2 1279.0 Z" fill="#e8f8ff" stroke="#e8f8ff" stroke-width="2.2" stroke-linejoin="round"/>
<path d="M355.4 1201 V1217.8 Q355.4 1226.3 346.9 1226.3 H283.3 Q274.8 1226.3 274.8 1234.8 V1251 M473.2 1201 V1251 M588.5 1201 V1217.8 Q588.5 1226.3 597 1226.3 H663 Q671.5 1226.3 671.5 1234.8 V1251" fill="none" stroke="#1b8fd3" stroke-width="10.4"/>
<path d="M355.4 1201 V1217.8 Q355.4 1226.3 346.9 1226.3 H283.3 Q274.8 1226.3 274.8 1234.8 V1251 M473.2 1201 V1251 M588.5 1201 V1217.8 Q588.5 1226.3 597 1226.3 H663 Q671.5 1226.3 671.5 1234.8 V1251" fill="none" stroke="#27a9ec" stroke-width="6.8"/>
<path d="M259.4 1244.5 L274.6 1248.3 L289.8 1244.5 L274.6 1279.0 Z" fill="#1898e0"/>
<path d="M458.0 1244.5 L473.2 1248.3 L488.4 1244.5 L473.2 1279.0 Z" fill="#1898e0"/>
<path d="M656.0 1244.5 L671.2 1248.3 L686.4 1244.5 L671.2 1279.0 Z" fill="#1898e0"/>
</g>
<rect x="117" y="1310.1" width="710.8" height="26" fill="url(#pipe)"/><rect x="254.6" y="1288.2" width="41.2" height="14" rx="1.5" fill="url(#nut)"/><rect x="254.6" y="1288.2" width="41.2" height="14" rx="1.5" fill="url(#nuth)"/><rect x="259.8" y="1302.4" width="31.2" height="13.6" fill="url(#coll2)"/><rect x="452.2" y="1288.2" width="41.2" height="14" rx="1.5" fill="url(#nut)"/><rect x="452.2" y="1288.2" width="41.2" height="14" rx="1.5" fill="url(#nuth)"/><rect x="457.4" y="1302.4" width="31.2" height="13.6" fill="url(#coll2)"/><rect x="650.2" y="1288.2" width="41.2" height="14" rx="1.5" fill="url(#nut)"/><rect x="650.2" y="1288.2" width="41.2" height="14" rx="1.5" fill="url(#nuth)"/><rect x="655.4" y="1302.4" width="31.2" height="13.6" fill="url(#coll2)"/><rect x="271.6" y="1335.8" width="8.2" height="15.4" fill="#f2f2f2"/><rect x="271.6" y="1335.8" width="2.6" height="15.4" fill="#8a8a8a"/><rect x="277.2" y="1335.8" width="2.6" height="15.4" fill="#8a8a8a"/><path d="M275.0 1354.2 C278.0 1362.2 286.0 1370.2 285.8 1378.7 C285.6 1385.7 280.5 1389.8 275.0 1389.8 C269.5 1389.8 264.4 1385.7 264.2 1378.7 C264.0 1370.2 272.0 1362.2 275.0 1354.2 Z" fill="url(#drop)" stroke="#5a98bb" stroke-width="1.1"/><ellipse cx="269.5" cy="1376.2" rx="2.2" ry="3.5" fill="#fff" opacity="0.7"/><ellipse cx="279.0" cy="1384.2" rx="2.5" ry="1.6" fill="#fff" opacity="0.6"/><rect x="469.2" y="1335.8" width="8.2" height="15.4" fill="#f2f2f2"/><rect x="469.2" y="1335.8" width="2.6" height="15.4" fill="#8a8a8a"/><rect x="474.8" y="1335.8" width="2.6" height="15.4" fill="#8a8a8a"/><path d="M472.6 1354.2 C475.6 1362.2 483.6 1370.2 483.4 1378.7 C483.2 1385.7 478.1 1389.8 472.6 1389.8 C467.1 1389.8 462.0 1385.7 461.8 1378.7 C461.6 1370.2 469.6 1362.2 472.6 1354.2 Z" fill="url(#drop)" stroke="#5a98bb" stroke-width="1.1"/><ellipse cx="467.1" cy="1376.2" rx="2.2" ry="3.5" fill="#fff" opacity="0.7"/><ellipse cx="476.6" cy="1384.2" rx="2.5" ry="1.6" fill="#fff" opacity="0.6"/><rect x="667.2" y="1335.8" width="8.2" height="15.4" fill="#f2f2f2"/><rect x="667.2" y="1335.8" width="2.6" height="15.4" fill="#8a8a8a"/><rect x="672.8" y="1335.8" width="2.6" height="15.4" fill="#8a8a8a"/><path d="M670.6 1354.2 C673.6 1362.2 681.6 1370.2 681.4 1378.7 C681.2 1385.7 676.1 1389.8 670.6 1389.8 C665.1 1389.8 660.0 1385.7 659.8 1378.7 C659.6 1370.2 667.6 1362.2 670.6 1354.2 Z" fill="url(#drop)" stroke="#5a98bb" stroke-width="1.1"/><ellipse cx="665.1" cy="1376.2" rx="2.2" ry="3.5" fill="#fff" opacity="0.7"/><ellipse cx="674.6" cy="1384.2" rx="2.5" ry="1.6" fill="#fff" opacity="0.6"/>
<!-- /DEVICE -->
<!-- red box text -->
<g fill="#161616" stroke="#161616" stroke-width="0.2" font-size="23">
<text x="725.3" y="295" lengthAdjust="spacingAndGlyphs" textLength="287.4">If you set the watering at</text>
<text x="726.5" y="323.3" lengthAdjust="spacingAndGlyphs" textLength="285.3">the same time, the water</text>
<text x="727.6" y="351.7" lengthAdjust="spacingAndGlyphs" textLength="260.7">valve will automatically</text>
<text x="726.5" y="380.1" lengthAdjust="spacingAndGlyphs" textLength="296.7">delay watering in order to</text>
<text x="726.5" y="408.6" lengthAdjust="spacingAndGlyphs" textLength="304.2">avoid water pressure drop</text>
<text x="726.4" y="437" lengthAdjust="spacingAndGlyphs" textLength="256">and insufficient water.</text>
</g>
<rect x="727" y="474" width="304" height="45.5" rx="22.75" fill="#a3a3a3"/>
<g fill="#111" stroke="#111" stroke-width="0.25" font-size="40">
<text x="791.5" y="510.7" lengthAdjust="spacingAndGlyphs" textLength="174.8">Zone 123</text>
<text x="796.8" y="558.4" lengthAdjust="spacingAndGlyphs" textLength="164.6">6:00 AM</text>
</g>
<!-- X icon -->
<circle cx="788.3" cy="637.8" r="45.2" fill="#ef1d1f"/>
<g stroke="#f4f6f8" stroke-width="8.2" stroke-linecap="round">
<line x1="768" y1="617.5" x2="808.6" y2="658.1"/>
<line x1="808.6" y1="617.5" x2="768" y2="658.1"/>
</g>

<!-- green box text -->
<g fill="#161616" stroke="#161616" stroke-width="0.2" font-size="23">
<text x="725" y="901.2" lengthAdjust="spacingAndGlyphs" textLength="257.7">Please stagger setting</text>
<text x="727.3" y="929.6" lengthAdjust="spacingAndGlyphs" textLength="169.4">watering times</text>
</g>
<g fill="#0f9b46">
<rect x="727" y="960.5" width="150.5" height="45.5" rx="22.75"/>
<rect x="727" y="1034" width="150.5" height="45.5" rx="22.75"/>
<rect x="727" y="1108" width="150.5" height="45.5" rx="22.75"/>
</g>
<g fill="#111" stroke="#111" stroke-width="0.45" font-size="31.5">
<text x="751.7" y="993.8">Zone 1</text>
<text x="885" y="993.8" lengthAdjust="spacingAndGlyphs" textLength="130.8">6:00 AM</text>
<text x="752.4" y="1067.5" lengthAdjust="spacingAndGlyphs" textLength="104.5">Zone 2</text>
<text x="891.3" y="1067.5" lengthAdjust="spacingAndGlyphs" textLength="124.7">6:10 AM</text>
<text x="749.6" y="1141.5" lengthAdjust="spacingAndGlyphs" textLength="106.2">Zone 3</text>
<text x="888.4" y="1141.5" lengthAdjust="spacingAndGlyphs" textLength="131.3">6:20 AM</text>
</g>
<!-- check icon -->
<circle cx="788.3" cy="1237.8" r="45.2" fill="#0d9a3e"/>
<polyline points="767.5,1238.5 782,1249.8 808,1221.8" fill="none" stroke="#f4f6f8" stroke-width="8" stroke-linecap="round" stroke-linejoin="round"/>

</svg>
</body></html>
